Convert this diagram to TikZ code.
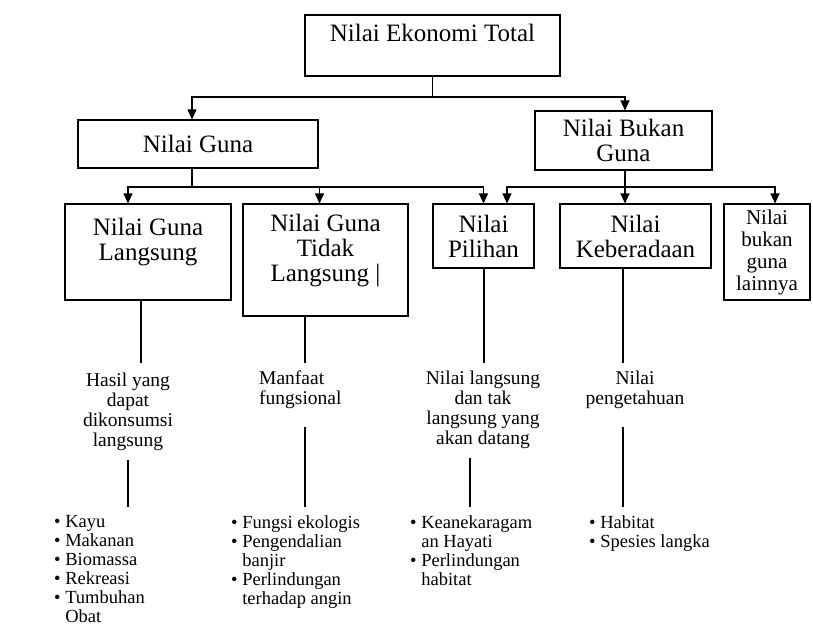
\documentclass[tikz,border=0pt]{standalone}
\usepackage{fontspec}
\setmainfont{Liberation Serif}
\usetikzlibrary{arrows.meta}

\newcommand{\bigf}{\fontsize{25}{25}\selectfont}
\newcommand{\lainf}{\fontsize{21}{22}\selectfont}
\newcommand{\midf}{\fontsize{19.5}{20}\selectfont}
\newcommand{\smallf}{\fontsize{18.5}{19}\selectfont}
\newcommand{\itm}{\textbullet\ }
\newcommand{\hang}{\hphantom{\textbullet\ }}

\begin{document}
\begin{tikzpicture}[x=1pt,y=-1pt,
  box/.style={draw,line width=1.1pt,inner sep=0pt,align=center,font=\bigf},
  txt/.style={inner sep=0pt,align=center,font=\midf},
  list/.style={inner sep=0pt,align=left,anchor=north west,font=\smallf},
  arr/.style={-{Triangle[length=10pt,width=9pt]},line width=1.1pt},
  ln/.style={line width=1.1pt}]

\useasboundingbox (0,0) rectangle (813,627);

% Top box
\node[box,minimum width=255,minimum height=61] (total) at (432.5,45.5) {Nilai Ekonomi Total\\ \mbox{}};

% Second level
\node[box,minimum width=240,minimum height=48] (guna) at (198,144) {Nilai Guna};
\node[box,minimum width=177,minimum height=59] (bukan) at (623.5,140.5) {Nilai Bukan\\Guna};

% Third level
\node[box,minimum width=166,minimum height=96] (lgs) at (148,252) {Nilai Guna\\Langsung\\ \mbox{}};
\node[box,minimum width=165,minimum height=112] (tdk) at (325.5,260) {Nilai Guna\\Tidak\\Langsung |\\ \mbox{}};
\node[box,minimum width=101,minimum height=64] (pil) at (483.5,236) {Nilai\\Pilihan};
\node[box,minimum width=151,minimum height=64] (kbr) at (635.5,236) {Nilai\\Keberadaan};
\node[box,minimum width=86,minimum height=96,font=\lainf] (lain) at (767,252) {Nilai\\bukan\\guna\\lainnya};

% Descriptions
\node[txt] (hasil) at (128,412) {Hasil yang\\dapat\\dikonsumsi\\langsung};
\node[txt,align=left,anchor=west] (manf) at (259,390) {Manfaat\\fungsional};
\node[txt] (nlt) at (483,410) {Nilai langsung\\dan tak\\langsung yang\\akan datang};
\node[txt] (peng) at (635,390) {Nilai\\pengetahuan};

% Examples
\node[list] (ex1) at (54,515) {\itm Kayu\\\itm Makanan\\\itm Biomassa\\\itm Rekreasi\\\itm Tumbuhan\\\hang Obat};
\node[list] (ex2) at (231,515) {\itm Fungsi ekologis\\\itm Pengendalian\\\hang banjir\\\itm Perlindungan\\\hang terhadap angin};
\node[list] (ex3) at (410,515) {\itm Keanekaragam\\\hang an Hayati\\\itm Perlindungan\\\hang habitat};
\node[list] (ex4) at (589,515) {\itm Habitat\\\itm Spesies langka};

% Junctions
\coordinate (j1) at (432.5,97);
\coordinate (j2) at (192,187);
\coordinate (j3) at (625,187);

% Arrows
\draw[ln] (total.south) -- (j1);
\draw[arr] (j1) -| ([xshift=-6pt]guna.north);
\draw[arr] (j1) -| ([xshift=1.5pt]bukan.north);

\draw[ln] ([xshift=-6pt]guna.south) -- (j2);
\draw[arr] (j2) -| ([xshift=-20pt]lgs.north);
\draw[arr] (j2) -| ([xshift=-6pt]tdk.north);
\draw[arr] (j2) -| (pil.north);

\draw[ln] ([xshift=1.5pt]bukan.south) -- (j3);
\draw[arr] (j3) -| ([xshift=23.5pt]pil.north);
\draw[arr] (j3) -| ([xshift=-10.5pt]kbr.north);
\draw[arr] (j3) -| ([xshift=8pt]lain.north);

% Lines down
\coordinate (m1) at (141,363);
\coordinate (m2) at (305,363);
\coordinate (m3) at (484,363);
\coordinate (m4) at (623,363);
\draw[ln] (lgs.south -| m1) -- (m1);
\draw[ln] (tdk.south -| m2) -- (m2);
\draw[ln] (pil.south -| m3) -- (m3);
\draw[ln] (kbr.south -| m4) -- (m4);

\coordinate (n1) at (128,460);
\coordinate (n2) at (305,427);
\coordinate (n3) at (470,458);
\coordinate (n4) at (623,427);
\draw[ln] (n1) -- ([yshift=8pt]n1 |- ex1.north);
\draw[ln] (n2) -- ([yshift=8pt]n2 |- ex2.north);
\draw[ln] (n3) -- ([yshift=8pt]n3 |- ex3.north);
\draw[ln] (n4) -- ([yshift=8pt]n4 |- ex4.north);

\end{tikzpicture}
\end{document}
